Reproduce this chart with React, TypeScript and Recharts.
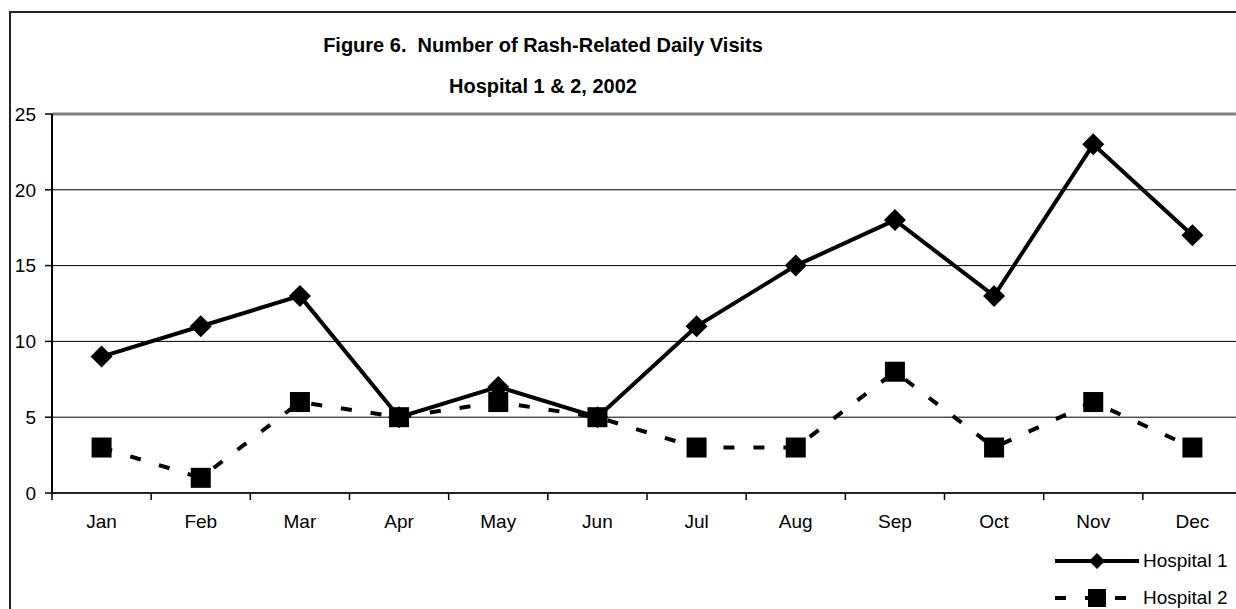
import { LineChart, Line, XAxis, YAxis, CartesianGrid, ReferenceLine } from 'recharts'

const months = ['Jan', 'Feb', 'Mar', 'Apr', 'May', 'Jun', 'Jul', 'Aug', 'Sep', 'Oct', 'Nov', 'Dec']
const hospital1 = [9, 11, 13, 5, 7, 5, 11, 15, 18, 13, 23, 17]
const hospital2 = [3, 1, 6, 5, 6, 5, 3, 3, 8, 3, 6, 3]
const yTicks = [0, 5, 10, 15, 20, 25]

const data = months.map((m, i) => ({ x: i + 0.5, month: m, h1: hospital1[i], h2: hospital2[i] }))
// half-steps carry month labels, whole steps are the boundary tick marks
const xTicks = months.flatMap((_, i) => [i, i + 0.5]).concat([months.length])

const FONT = 'Arial, "Liberation Sans", sans-serif'
const TICK_SIZE = 19

// eslint-disable-next-line @typescript-eslint/no-explicit-any
function MonthTick({ x, y, payload }: any) {
  const v = payload.value
  if (Number.isInteger(v)) {
    return <line x1={x} x2={x} y1={y} y2={y + 7} stroke="#000" strokeWidth={1.5} />
  }
  return (
    <text x={x} y={y + 35} textAnchor="middle" fontSize={TICK_SIZE} fontFamily={FONT} fill="#000">
      {months[Math.floor(v)]}
    </text>
  )
}

// eslint-disable-next-line @typescript-eslint/no-explicit-any
function Diamond({ cx, cy }: any) {
  if (cx == null || cy == null) return null
  const r = 11
  return <path d={`M${cx},${cy - r}L${cx + r},${cy}L${cx},${cy + r}L${cx - r},${cy}Z`} fill="#000" />
}

// eslint-disable-next-line @typescript-eslint/no-explicit-any
function Square({ cx, cy }: any) {
  if (cx == null || cy == null) return null
  return <rect x={cx - 10} y={cy - 10} width={20} height={20} fill="#000" />
}

function LegendBox() {
  const items = [
    { name: 'Hospital 1', dash: undefined, marker: 'diamond' },
    { name: 'Hospital 2', dash: '11 19', marker: 'square' },
  ]
  return (
    <div style={{ position: 'absolute', left: 1055, top: 542, fontFamily: FONT, fontSize: 19 }}>
      {items.map(it => (
        <div key={it.name} style={{ display: 'flex', alignItems: 'center', height: 37 }}>
          <svg width={88} height={24} style={{ display: 'block' }}>
            <line x1={0} x2={84} y1={12} y2={12} stroke="#000" strokeWidth={4} strokeDasharray={it.dash} />
            {it.marker === 'diamond'
              ? <path d="M42,4L50,12L42,20L34,12Z" fill="#000" />
              : <rect x={33} y={3} width={18} height={18} fill="#000" />}
          </svg>
          <span>{it.name}</span>
        </div>
      ))}
    </div>
  )
}

export default function App() {
  return (
    <div style={{ position: 'relative', width: 1236, height: 609, overflow: 'hidden', background: '#fff' }}>
      <style>{'body{margin:0}'}</style>
      <div style={{
        position: 'absolute', left: 9, top: 11, width: 1400, height: 800,
        border: '2px solid #222', boxSizing: 'border-box',
      }} />
      <div style={{
        position: 'absolute', left: 0, width: 1086, top: 25, textAlign: 'center',
        fontFamily: FONT, fontWeight: 'bold', fontSize: 20, lineHeight: '41px', color: '#000',
      }}>
        <div>Figure 6.&nbsp; Number of Rash-Related Daily Visits</div>
        <div>Hospital 1 &amp; 2, 2002</div>
      </div>
      <div style={{ position: 'absolute', left: 0, top: 0 }}>
        <LineChart width={1242} height={609} data={data} margin={{ top: 114, right: 0, bottom: 0, left: 0 }}>
          <CartesianGrid vertical={false} stroke="#000" strokeWidth={1} />
          <XAxis
            dataKey="x" type="number" domain={[0, months.length]} ticks={xTicks} interval={0}
            tick={<MonthTick />} tickLine={false} tickSize={0} tickMargin={0}
            axisLine={{ stroke: '#222', strokeWidth: 2 }} height={116}
          />
          <YAxis
            domain={[0, 25]} ticks={yTicks} width={52} interval={0}
            tick={{ fontSize: TICK_SIZE, fontFamily: FONT, fill: '#000' }}
            tickLine={{ stroke: '#000', strokeWidth: 1.5 }} tickSize={7} tickMargin={9}
            axisLine={{ stroke: '#000', strokeWidth: 2 }}
          />
          <ReferenceLine y={25} stroke="#808080" strokeWidth={3} />
          <Line dataKey="h2" name="Hospital 2" stroke="#000" strokeWidth={4} strokeDasharray="11 19"
            dot={<Square />} activeDot={false} isAnimationActive={false} />
          <Line dataKey="h1" name="Hospital 1" stroke="#000" strokeWidth={4}
            dot={<Diamond />} activeDot={false} isAnimationActive={false} />
        </LineChart>
      </div>
      <LegendBox />
    </div>
  )
}
